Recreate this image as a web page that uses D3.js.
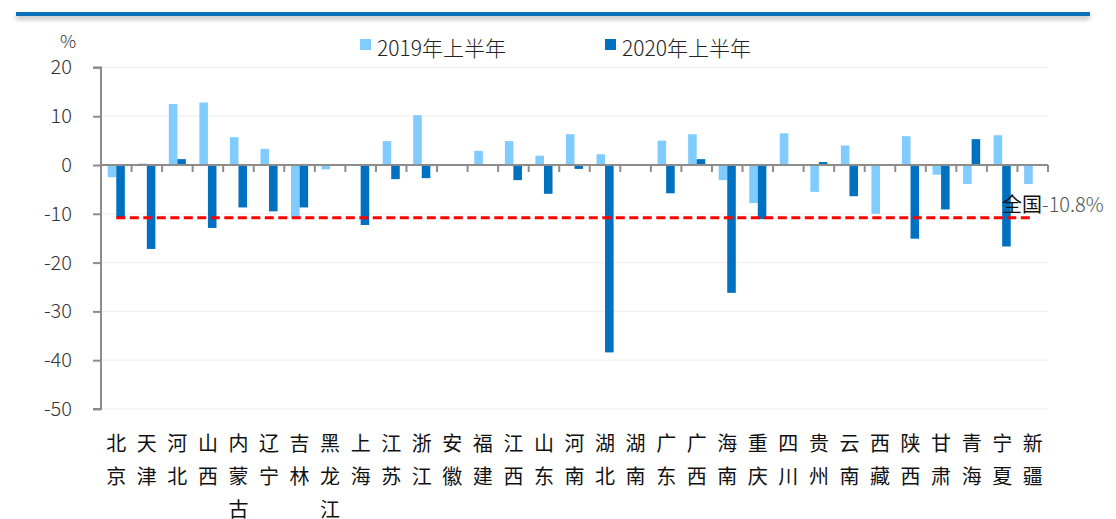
<!DOCTYPE html>
<html>
<head>
<meta charset="utf-8">
<script src="https://cdn.jsdelivr.net/npm/d3@7"></script>
<style>
  html, body { margin: 0; padding: 0; background: #ffffff; }
  svg { display: block; font-family: "Noto Sans CJK SC", "Noto Sans", sans-serif; }
</style>
</head>
<body>
<svg id="chart" width="1116" height="519"></svg>
<script>
// ---- data ----
const categories = ["北京","天津","河北","山西","内蒙古","辽宁","吉林","黑龙江","上海","江苏","浙江","安徽","福建","江西","山东","河南","湖北","湖南","广东","广西","海南","重庆","四川","贵州","云南","西藏","陕西","甘肃","青海","宁夏","新疆"];
const series2019 = [-2.5, 0.3, 12.5, 12.8, 5.7, 3.3, -10.8, -0.9, null, 4.9, 10.2, null, 2.9, 4.9, 1.9, 6.3, 2.2, 0.2, 5.0, 6.3, -3.1, -7.8, 6.5, -5.5, 4.0, -10.0, 5.9, -2.0, -3.9, 6.1, -3.9];
const series2020 = [-10.7, -17.2, 1.2, -12.9, -8.7, -9.5, -8.7, null, -12.3, -2.9, -2.7, null, null, -3.1, -5.9, -0.8, -38.4, null, -5.8, 1.2, -26.2, -11.1, null, 0.6, -6.4, null, -15.1, -9.1, 5.3, -16.7, null];
const nationalValue = -10.8;
const seriesNames = ["2019年上半年", "2020年上半年"];
const yTicks = [20, 10, 0, -10, -20, -30, -40, -50];
const nationalLabel = "全国";
const nationalValueLabel = "-10.8%";
const unitLabel = "%";

// ---- layout ----
const svg = d3.select("#chart");
const colors = ["#80cbff", "#0070c0"];
const axisColor = "#8c8c8c";

const x = d3.scaleBand().domain(categories).range([101, 1048]).padding(0);
const y = d3.scaleLinear().domain([-50, 20]).range([409, 67.4]);
const barW = x.bandwidth() * 0.28;

// top decorative line with shadow
const defs = svg.append("defs");
const f = defs.append("filter").attr("id", "sh").attr("filterUnits", "userSpaceOnUse")
  .attr("x", 0).attr("y", 0).attr("width", 1116).attr("height", 40);
f.append("feDropShadow").attr("dx", 0).attr("dy", 3).attr("stdDeviation", 2.5).attr("flood-color", "#000").attr("flood-opacity", 0.3);
svg.append("rect").attr("x", 16).attr("y", 12).attr("width", 1074).attr("height", 4)
  .attr("fill", "#0a6fba").attr("filter", "url(#sh)");

// gridlines
svg.append("g").selectAll("line").data(yTicks.filter(d => d !== 0)).join("line")
  .attr("x1", 101).attr("x2", 1048)
  .attr("y1", d => y(d)).attr("y2", d => y(d))
  .attr("stroke", "#f0f0f0").attr("stroke-width", 1.2);

// bars
const g = svg.append("g");
[series2019, series2020].forEach((ser, si) => {
  g.append("g").selectAll("rect")
    .data(categories.map((c, i) => ({c, v: ser[i]})).filter(d => d.v !== null))
    .join("rect")
    .attr("x", d => x(d.c) + x.bandwidth() / 2 - (si === 0 ? barW : 0))
    .attr("width", barW)
    .attr("y", d => y(Math.max(0, d.v)))
    .attr("height", d => Math.abs(y(d.v) - y(0)))
    .attr("fill", colors[si]);
});

// y axis
const yAxis = d3.axisLeft(y).tickValues(yTicks).tickSize(8).tickPadding(21).tickFormat(d => String(d));
const ya = svg.append("g").attr("transform", "translate(101,0)").call(yAxis);
ya.select(".domain").attr("stroke", axisColor).attr("stroke-width", 2).attr("d", `M-8,${y(20)}H0V${y(-50)}H-8`);
ya.selectAll(".tick line").attr("stroke", axisColor).attr("stroke-width", 2);
ya.selectAll(".tick text").attr("font-size", 20).attr("font-weight", 300).attr("fill", "#333").attr("font-family", "'Noto Sans CJK SC', sans-serif");

// x axis (zero line with ticks at category boundaries)
const xa = svg.append("g");
xa.append("line").attr("x1", 101).attr("x2", 1048).attr("y1", y(0)).attr("y2", y(0))
  .attr("stroke", axisColor).attr("stroke-width", 2);
const bounds = categories.map(c => x(c)).concat([x.range()[1]]);
xa.selectAll("line.tk").data(bounds.slice(1)).join("line").attr("class", "tk")
  .attr("x1", d => d).attr("x2", d => d)
  .attr("y1", y(0)).attr("y2", y(0) + 7)
  .attr("stroke", axisColor).attr("stroke-width", 2);

// category labels (vertical characters)
const lab = svg.append("g").attr("font-size", 20).attr("fill", "#111").attr("text-anchor", "middle");
categories.forEach(c => {
  const t = lab.append("text").attr("x", x(c) + x.bandwidth() / 2).attr("y", 451);
  Array.from(c).forEach((ch, k) => {
    t.append("tspan").attr("x", x(c) + x.bandwidth() / 2).attr("dy", k === 0 ? 0 : 33).text(ch);
  });
});

// national line
const line = d3.line().x(d => x(d) + x.bandwidth() / 2).y(() => y(nationalValue));
svg.append("path").attr("d", line(categories))
  .attr("fill", "none").attr("stroke", "#ff0000").attr("stroke-width", 3)
  .attr("stroke-dasharray", "9,4.5");

// national label
const nl = svg.append("text").attr("x", 1002).attr("y", 212).attr("font-size", 20);
nl.append("tspan").attr("fill", "#111").text(nationalLabel);
nl.append("tspan").attr("fill", "#555").attr("font-weight", 300).text(nationalValueLabel);

// unit label
svg.append("text").attr("x", 68).attr("y", 48).attr("text-anchor", "middle")
  .attr("font-size", 18).attr("font-weight", 300).attr("fill", "#333").text(unitLabel);

// legend
const legendX = [360, 605];
seriesNames.forEach((n, i) => {
  svg.append("rect").attr("x", legendX[i]).attr("y", 39).attr("width", 11).attr("height", 11).attr("fill", colors[i]);
  svg.append("text").attr("x", legendX[i] + 17).attr("y", 56).attr("font-size", 21).attr("font-weight", 300).attr("fill", "#222").text(n);
});
</script>
</body>
</html>
